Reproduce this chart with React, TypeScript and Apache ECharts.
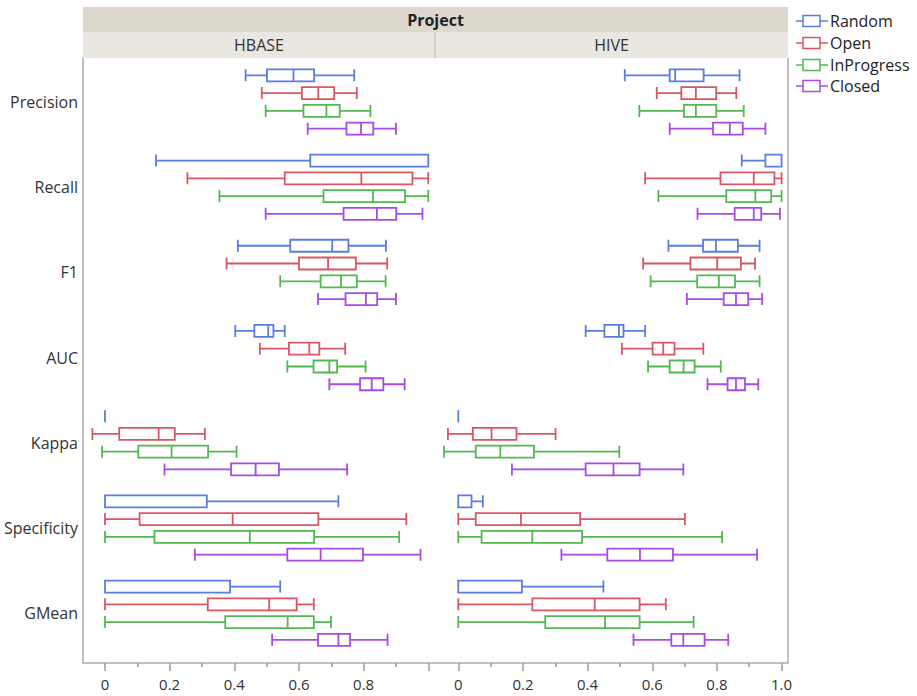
import React, { useEffect, useRef } from "react";
import * as echarts from "echarts";

const metrics = ["Precision", "Recall", "F1", "AUC", "Kappa", "Specificity", "GMean"];
const groups = ["Random", "Open", "InProgress", "Closed"];
const groupColors = ["#5a7de0", "#dc5564", "#52b852", "#a84be6"];
const projects = ["HBASE", "HIVE"];
const majorTicks = [0, 0.2, 0.4, 0.6, 0.8, 1.0];
const minorTicks = [0.1, 0.3, 0.5, 0.7, 0.9];
const hbaseTickLabels = [0, 0.2, 0.4, 0.6, 0.8];
const hiveTickLabels = [0, 0.2, 0.4, 0.6, 0.8, 1.0];

// [min, Q1, median, Q3, max] per metric
const hbaseRandom = [
  [0.435, 0.501, 0.583, 0.647, 0.771],
  [0.158, 0.635, 1.0, 1.0, 1.0],
  [0.411, 0.573, 0.703, 0.753, 0.869],
  [0.403, 0.462, 0.505, 0.521, 0.556],
  [0, 0, 0, 0, 0],
  [0, 0, 0, 0.315, 0.722],
  [0, 0, 0, 0.387, 0.542],
];
const hbaseOpen = [
  [0.485, 0.609, 0.66, 0.709, 0.779],
  [0.255, 0.556, 0.793, 0.951, 1.0],
  [0.376, 0.6, 0.69, 0.776, 0.873],
  [0.479, 0.569, 0.632, 0.663, 0.743],
  [-0.039, 0.044, 0.166, 0.216, 0.309],
  [0, 0.107, 0.395, 0.66, 0.932],
  [0, 0.318, 0.508, 0.593, 0.646],
];
const hbaseInProgress = [
  [0.497, 0.614, 0.685, 0.726, 0.821],
  [0.354, 0.676, 0.829, 0.928, 1.0],
  [0.542, 0.667, 0.73, 0.779, 0.868],
  [0.564, 0.645, 0.694, 0.718, 0.806],
  [-0.009, 0.103, 0.206, 0.319, 0.407],
  [0, 0.153, 0.448, 0.647, 0.91],
  [0, 0.372, 0.565, 0.646, 0.699],
];
const hbaseClosed = [
  [0.627, 0.747, 0.792, 0.83, 0.9],
  [0.497, 0.738, 0.841, 0.901, 0.982],
  [0.659, 0.744, 0.807, 0.842, 0.9],
  [0.694, 0.789, 0.825, 0.861, 0.927],
  [0.184, 0.39, 0.466, 0.538, 0.749],
  [0.278, 0.564, 0.667, 0.798, 0.976],
  [0.517, 0.659, 0.722, 0.758, 0.874],
];
const hiveRandom = [
  [0.515, 0.654, 0.671, 0.759, 0.87],
  [0.877, 0.95, 1.0, 1.0, 1.0],
  [0.65, 0.757, 0.797, 0.865, 0.932],
  [0.394, 0.452, 0.497, 0.511, 0.578],
  [0, 0, 0, 0, 0],
  [0, 0, 0, 0.041, 0.076],
  [0, 0, 0, 0.197, 0.449],
];
const hiveOpen = [
  [0.614, 0.69, 0.735, 0.798, 0.86],
  [0.578, 0.811, 0.914, 0.978, 1.0],
  [0.572, 0.718, 0.801, 0.874, 0.918],
  [0.506, 0.601, 0.634, 0.669, 0.758],
  [-0.032, 0.045, 0.103, 0.18, 0.301],
  [0, 0.054, 0.194, 0.377, 0.701],
  [0, 0.229, 0.422, 0.561, 0.642],
];
const hiveInProgress = [
  [0.56, 0.698, 0.735, 0.798, 0.883],
  [0.619, 0.829, 0.919, 0.968, 1.0],
  [0.595, 0.739, 0.806, 0.856, 0.932],
  [0.587, 0.654, 0.697, 0.731, 0.812],
  [-0.044, 0.054, 0.13, 0.234, 0.498],
  [0, 0.072, 0.229, 0.383, 0.816],
  [0, 0.269, 0.454, 0.561, 0.728],
];
const hiveClosed = [
  [0.654, 0.788, 0.84, 0.88, 0.95],
  [0.74, 0.855, 0.914, 0.937, 0.995],
  [0.707, 0.821, 0.859, 0.897, 0.94],
  [0.771, 0.833, 0.859, 0.887, 0.928],
  [0.166, 0.394, 0.48, 0.561, 0.696],
  [0.319, 0.461, 0.562, 0.664, 0.924],
  [0.542, 0.659, 0.696, 0.762, 0.835],
];

const FONT = "'Open Sans', 'Noto Sans', sans-serif";

export default function App() {
  const ref = useRef<HTMLDivElement>(null);
  useEffect(() => {
    const chart = echarts.init(ref.current!, null, { renderer: "svg" });
    const panelData = [
      [hbaseRandom, hbaseOpen, hbaseInProgress, hbaseClosed],
      [hiveRandom, hiveOpen, hiveInProgress, hiveClosed],
    ];
    const gridTop = 59.4;
    const gridHeight = 596.4;
    const grids = [
      { left: 83, top: gridTop, width: 352, height: gridHeight },
      { left: 435, top: gridTop, width: 353, height: gridHeight },
    ];
    const extents = [
      [-0.068, 1.0208],
      [-0.072, 1.0199],
    ];
    const labelSets = [hbaseTickLabels, hiveTickLabels];
    const fmt = (v: number) => (v === 0 ? "0" : v.toFixed(1));
    const xAxes: any[] = [];
    const yAxes: any[] = [];
    [0, 1].forEach((g) => {
      xAxes.push({
        gridIndex: g,
        type: "value",
        min: extents[g][0],
        max: extents[g][1],
        position: "bottom",
        offset: 7.2,
        axisLine: { show: false },
        splitLine: { show: false },
        axisTick: {
          show: true,
          customValues: majorTicks,
          length: 8,
          lineStyle: { color: "#9a9a9a", width: 1.5 },
        },
        axisLabel: {
          customValues: labelSets[g],
          formatter: fmt,
          color: "#333",
          fontSize: 15,
          fontFamily: FONT,
          margin: 13,
        },
      });
      xAxes.push({
        gridIndex: g,
        type: "value",
        min: extents[g][0],
        max: extents[g][1],
        position: "bottom",
        offset: 7.2,
        axisLine: { show: false },
        splitLine: { show: false },
        axisTick: {
          show: true,
          customValues: minorTicks,
          length: 4,
          lineStyle: { color: "#9a9a9a", width: 1.5 },
        },
        axisLabel: { show: false },
      });
      yAxes.push({
        gridIndex: g,
        type: "category",
        data: metrics,
        inverse: true,
        axisLine: { show: false },
        axisTick: { show: false },
        splitLine: { show: false },
        axisLabel: {
          show: g === 0,
          color: "#333",
          fontSize: 16,
          fontFamily: FONT,
          margin: 5,
        },
      });
    });
    const series: any[] = [];
    [0, 1].forEach((g) => {
      groups.forEach((name, i) => {
        series.push({
          name,
          type: "boxplot",
          xAxisIndex: g * 2,
          yAxisIndex: g,
          boxWidth: [12, 12],
          silent: true,
          itemStyle: { color: "#fff", borderColor: groupColors[i], borderWidth: 1.8 },
          emphasis: { disabled: true },
          data: panelData[g][i],
        });
      });
    });

    const headerLeft = 83;
    const headerRight = 788;
    const graphics: any[] = [
      {
        type: "rect",
        shape: { x: headerLeft, y: 7, width: headerRight - headerLeft, height: 25 },
        style: { fill: "#dcd8cd" },
      },
      {
        type: "rect",
        shape: { x: headerLeft, y: 32, width: headerRight - headerLeft, height: 26 },
        style: { fill: "#e9e7e0" },
      },
      {
        type: "line",
        shape: { x1: 435, y1: 32, x2: 435, y2: 58 },
        style: { stroke: "#d2d0c8", lineWidth: 2 },
      },
      {
        type: "text",
        x: (headerLeft + headerRight) / 2,
        y: 19.5,
        style: {
          text: "Project",
          fill: "#222",
          font: `bold 16px ${FONT}`,
          align: "center",
          verticalAlign: "middle",
          textAlign: "center",
          textVerticalAlign: "middle",
        },
      },
      {
        type: "text",
        x: (83 + 435) / 2,
        y: 45,
        style: {
          text: projects[0],
          fill: "#333",
          font: `16px ${FONT}`,
          align: "center",
          verticalAlign: "middle",
          textAlign: "center",
          textVerticalAlign: "middle",
        },
      },
      {
        type: "text",
        x: (435 + 788) / 2,
        y: 45,
        style: {
          text: projects[1],
          fill: "#333",
          font: `16px ${FONT}`,
          align: "center",
          verticalAlign: "middle",
          textAlign: "center",
          textVerticalAlign: "middle",
        },
      },
      {
        type: "polyline",
        shape: { points: [[83, 58], [83, 663], [788, 663], [788, 58]] },
        style: { stroke: "#acacac", lineWidth: 1.5, fill: null },
      },
    ];
    const legendY = [21, 43, 65, 86];
    groups.forEach((name, i) => {
      const y = legendY[i];
      graphics.push({
        type: "line",
        shape: { x1: 796, y1: y, x2: 828, y2: y },
        style: { stroke: groupColors[i], lineWidth: 1.5 },
      });
      graphics.push({
        type: "rect",
        shape: { x: 803, y: y - 5.5, width: 17, height: 11 },
        style: { fill: "#fff", stroke: groupColors[i], lineWidth: 1.5 },
      });
      graphics.push({
        type: "text",
        x: 830,
        y,
        style: {
          text: name,
          fill: "#222",
          font: `16px ${FONT}`,
          align: "left",
          verticalAlign: "middle",
          textAlign: "left",
          textVerticalAlign: "middle",
        },
      });
    });

    chart.setOption({
      animation: false,
      backgroundColor: "#fff",
      grid: grids,
      xAxis: xAxes,
      yAxis: yAxes,
      series,
      graphic: { elements: graphics },
    });
    return () => chart.dispose();
  }, []);
  return (
    <div
      ref={ref}
      style={{ position: "fixed", left: 0, top: 0, width: 917, height: 696, background: "#fff" }}
    />
  );
}
